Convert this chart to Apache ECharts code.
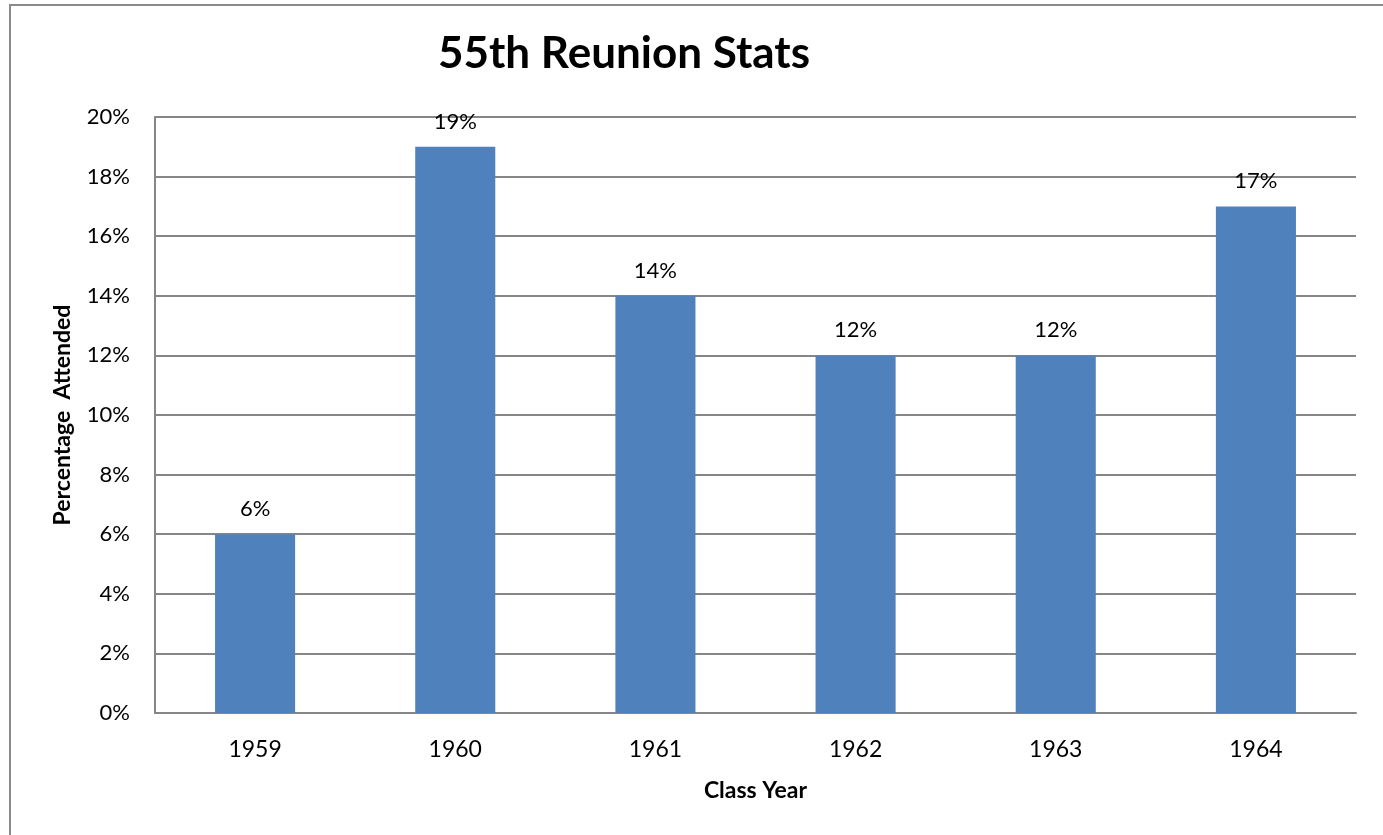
<!DOCTYPE html>
<html>
<head>
<meta charset="utf-8">
<script src="https://cdn.jsdelivr.net/npm/echarts@6/dist/echarts.min.js"></script>
<style>
  html, body { margin: 0; padding: 0; background: #fff; }
  #chart { width: 1383px; height: 835px; }
</style>
</head>
<body>
<div id="chart"></div>
<script>
// class years on the x axis
const years = ['1959', '1960', '1961', '1962', '1963', '1964']
// percentage attended per class
const attended = [6, 19, 14, 12, 12, 17]

const chart = echarts.init(document.getElementById('chart'))
const font = 'Lato, "Open Sans", sans-serif'

chart.setOption({
  animation: false,
  backgroundColor: '#fff',
  graphic: [{
    type: 'rect',
    shape: { x: 10, y: 5, width: 1500, height: 1000 },
    style: { fill: 'none', stroke: '#8a8a8a', lineWidth: 2 },
    silent: true
  }],
  title: {
    text: '55th Reunion Stats',
    left: 619,
    textAlign: 'center',
    top: 27,
    textStyle: { fontFamily: font, fontWeight: 'bold', fontSize: 44, color: '#000' }
  },
  grid: { left: 155, right: 27, top: 117, bottom: 122 },
  xAxis: {
    type: 'category',
    data: years,
    name: 'Class Year',
    nameLocation: 'middle',
    nameGap: 66,
    nameTextStyle: { fontFamily: font, fontWeight: 'bold', fontSize: 23, color: '#000' },
    axisLine: { lineStyle: { color: '#868686', width: 2 } },
    axisTick: { show: false },
    axisLabel: { fontFamily: font, fontSize: 23, color: '#000', margin: 25 }
  },
  yAxis: {
    type: 'value',
    min: 0,
    max: 20,
    interval: 2,
    name: 'Percentage  Attended',
    nameLocation: 'middle',
    nameGap: 81,
    nameTextStyle: { fontFamily: font, fontWeight: 'bold', fontSize: 23, color: '#000' },
    axisLine: { show: true, lineStyle: { color: '#868686', width: 2 } },
    axisTick: { show: false },
    splitLine: { lineStyle: { color: '#868686', width: 2 } },
    axisLabel: { fontFamily: font, fontSize: 22, color: '#000', margin: 25, formatter: '{value}%' }
  },
  series: [{
    type: 'bar',
    data: attended,
    barWidth: '40%',
    itemStyle: { color: '#4F81BD' },
    label: {
      show: true,
      position: 'top',
      distance: 14,
      formatter: '{c}%',
      fontFamily: font,
      fontSize: 22,
      color: '#000'
    }
  }]
})
</script>
</body>
</html>
